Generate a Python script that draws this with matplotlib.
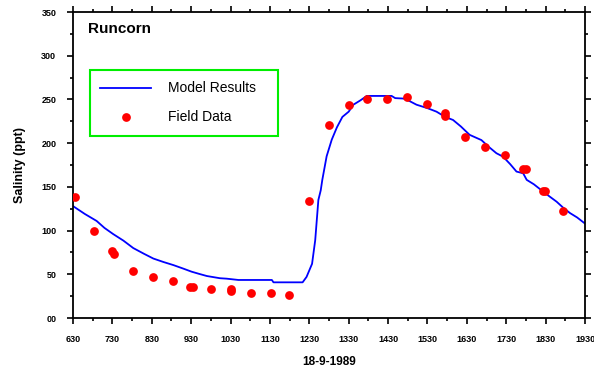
import matplotlib.pyplot as plt
from matplotlib.ticker import MultipleLocator
from matplotlib.lines import Line2D
from matplotlib.patches import Rectangle
from matplotlib import font_manager

plt.rcParams['font.family'] = ['Liberation Sans', 'DejaVu Sans']

# Model salinity, time in decimal hours
model_t = [6.50, 6.80, 7.10, 7.30, 7.52, 7.78, 8.03, 8.30, 8.54, 8.80, 9.05, 9.30,
           9.51, 9.70, 9.90, 10.23, 10.40, 10.70, 11.00, 11.30, 11.55, 11.59, 12.00,
           12.33, 12.43, 12.57, 12.65, 12.73, 12.79, 12.83, 12.94, 13.07, 13.20,
           13.34, 13.50, 13.62, 13.80, 13.96, 14.30, 14.59, 14.68, 14.89, 15.05,
           15.22, 15.50, 15.73, 15.95, 16.15, 16.35, 16.57, 16.87, 17.05, 17.25,
           17.42, 17.60, 17.76, 17.93, 18.02, 18.20, 18.44, 18.60, 18.78, 18.95,
           19.12, 19.30, 19.50]
model_s = [128, 119, 111, 103, 96, 88.5, 80, 73.5, 68, 64, 60.5, 56.5,
           53, 50.5, 48, 45.5, 45, 43.5, 43.5, 43.5, 43.5, 40.8, 40.8,
           40.8, 47, 62, 89, 135, 146, 158, 185, 204, 218,
           230, 236, 244, 249, 254, 254, 254, 251.5, 251, 248,
           244, 240, 236, 230, 226.5, 219, 209.5, 203.5, 196, 188.5,
           184.5, 176, 167.5, 165.5, 158, 153, 144.5, 139, 133, 126,
           120, 115, 108]

# Field measurements
field_t = [6.56, 7.03, 7.50, 7.53, 8.03, 8.54, 9.05, 9.48, 9.54, 10.00, 10.51, 10.51,
           11.02, 11.53, 11.99, 12.49, 13.00, 13.52, 13.97, 14.47, 14.97, 15.49,
           15.95, 15.95, 16.45, 16.97, 17.47, 17.93, 17.99, 18.43, 18.48, 18.95]
field_s = [138, 99.5, 77, 73, 54, 46.5, 42, 35.5, 35.5, 33, 33.5, 30.5,
           28.5, 28.5, 26, 133.5, 221, 243.5, 250, 250.5, 252.5, 244.5,
           235, 231, 207, 195.5, 186, 170.5, 170.5, 145, 145, 122]

hour_ticks = [6.5 + i for i in range(14)]
hour_labels = ['630', '730', '830', '930', '1030', '1130', '1230', '1330',
               '1430', '1530', '1630', '1730', '1830', '1930']
sal_ticks = [0, 50, 100, 150, 200, 250, 300, 350]
sal_labels = ['00', '50', '100', '150', '200', '250', '300', '350']

# narrow face for the tick numbers if available
names = {f.name for f in font_manager.fontManager.ttflist}
tick_family = 'Liberation Sans Narrow' if 'Liberation Sans Narrow' in names else 'Liberation Sans'
tick_size = 7.5 if tick_family == 'Liberation Sans Narrow' else 6.5

fig = plt.figure(figsize=(5.94, 3.76), dpi=100)
ax = fig.add_axes([73 / 594, 58 / 376, 512 / 594, 306 / 376])

ax.plot(model_t, model_s, color='#0000ff', lw=1.3, zorder=2)
ax.plot(field_t, field_s, 'o', color='#ff0000', ms=6.3, mec='none', zorder=3)

ax.set_xlim(6.5, 19.5)
ax.set_ylim(0, 350)
ax.set_xticks(hour_ticks)
ax.set_xticklabels(hour_labels)
ax.set_yticks(sal_ticks)
ax.set_yticklabels(sal_labels)
ax.xaxis.set_minor_locator(MultipleLocator(0.5))
ax.yaxis.set_minor_locator(MultipleLocator(25))

ax.tick_params(which='both', direction='out', top=True, right=True,
               labeltop=False, labelright=False, width=1.2, color='black')
ax.tick_params(which='major', length=4, labelsize=tick_size, pad=8)
ax.tick_params(which='minor', length=2.5)
for lbl in ax.get_xticklabels() + ax.get_yticklabels():
    lbl.set_fontweight('bold')
    lbl.set_family(tick_family)
for sp in ax.spines.values():
    sp.set_linewidth(1.3)

ax.set_xlabel('18-9-1989', fontsize=8.5, fontweight='bold', labelpad=9)
ax.set_ylabel('Salinity (ppt)', fontsize=9, fontweight='bold', labelpad=11)

fig.text(88 / 594, 1 - 29 / 376, 'Runcorn', fontsize=11, fontweight='bold',
         va='center', ha='left')

# legend box with green frame
fig.patches.append(Rectangle((90 / 594, 1 - 136 / 376), 188 / 594, 66 / 376,
                             transform=fig.transFigure, fill=True, fc='white',
                             ec='#00ee00', lw=1.5, zorder=5))
fig.lines.append(Line2D([100 / 594, 151 / 594], [1 - 88 / 376] * 2,
                        transform=fig.transFigure, color='#0000ff', lw=1.3, zorder=6))
fig.lines.append(Line2D([126 / 594], [1 - 117 / 376], transform=fig.transFigure,
                        ls='none', marker='o', color='#ff0000', ms=6.3, mec='none', zorder=6))
fig.text(168 / 594, 1 - 88 / 376, 'Model Results', fontsize=10, va='center', zorder=7)
fig.text(168 / 594, 1 - 117 / 376, 'Field Data', fontsize=10, va='center', zorder=7)

fig.savefig('out.png', dpi=100)
